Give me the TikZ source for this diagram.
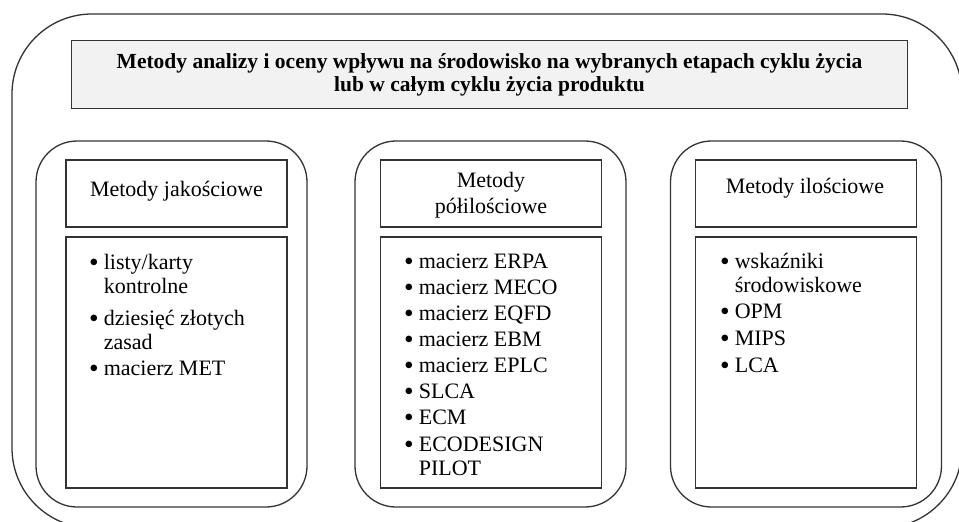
\documentclass[tikz,border=0pt]{standalone}
\usepackage{fontspec}
\setmainfont{Liberation Serif}
\definecolor{titlegray}{HTML}{F2F2F2}
\definecolor{linegray}{HTML}{333333}
\newcommand{\bul}{\raisebox{-2pt}{\scalebox{1.25}{\textbullet}}}
\begin{document}
\begin{tikzpicture}[x=1pt,y=-1pt,
    frame/.style={draw=linegray, line width=1.3pt},
    outerbox/.style={frame, rounded corners=80pt, minimum width=950pt, minimum height=514pt, inner sep=0pt},
    colbox/.style={frame, rounded corners=41pt, minimum width=271pt, minimum height=366pt, inner sep=0pt},
    titlebox/.style={frame, fill=titlegray, minimum width=836pt, minimum height=68pt, inner sep=0pt,
        align=center, font=\fontsize{21.5}{23}\selectfont\bfseries},
    hdrbox/.style={frame, minimum width=221pt, minimum height=67pt, inner sep=0pt},
    listbox/.style={frame, minimum width=221pt, minimum height=251pt, inner sep=0pt},
    hdrtext/.style={anchor=base, inner sep=0pt, font=\fontsize{22}{26}\selectfont},
    listtext/.style={anchor=base west, inner sep=0pt, font=\fontsize{22}{24}\selectfont}]
    \clip (0,0) rectangle (959,522);

    % draw the outer frame
    \node[outerbox] (outer) at (487,271) {};

    % title
    \node[titlebox] (title) at (489.5,74.5) {Metody analizy i oceny wpływu na środowisko na wybranych etapach cyklu życia\\
        lub w całym cyklu życia produktu};

    % the three columns
    \node[colbox] (colA) at (171.5,324) {};
    \node[colbox] (colB) at (490.5,324) {};
    \node[colbox] (colC) at (806,324) {};

    % headers
    \node[hdrbox] (hdrA) at (176.5,193.5) {};
    \node[hdrbox] (hdrB) at (491,193.5) {};
    \node[hdrbox] (hdrC) at (806,193.5) {};
    \node[hdrtext] (hdrAtext) at (176.5,196) {Metody jakościowe};
    \node[hdrtext] (hdrBtext) at (491,187) {\begin{tabular}[t]{@{}c@{}}Metody\\półilościowe\end{tabular}};
    \node[hdrtext] (hdrCtext) at (805,193) {Metody ilościowe};

    % lists
    \node[listbox] (listA) at (176.5,362.5) {};
    \node[listbox] (listB) at (491,362.5) {};
    \node[listbox] (listC) at (806,362.5) {};

    \node[listtext] (listAtext) at (89,269) {\begin{tabular}[t]{@{}l@{\hspace{5pt}}l@{}}
        \bul & listy/karty\\ & kontrolne\\[8pt]
        \bul & dziesięć złotych\\ & zasad\\[2pt]
        \bul & macierz MET
    \end{tabular}};
    \node[listtext] (listBtext) at (404,268) {\renewcommand{\arraystretch}{1.09}\begin{tabular}[t]{@{}l@{\hspace{5pt}}l@{}}
        \bul & macierz ERPA\\
        \bul & macierz MECO\\
        \bul & macierz EQFD\\
        \bul & macierz EBM\\
        \bul & macierz EPLC\\
        \bul & SLCA\\
        \bul & ECM\\
        \bul & ECODESIGN\\[-2pt] & PILOT
    \end{tabular}};
    \node[listtext] (listCtext) at (720,268) {\begin{tabular}[t]{@{}l@{\hspace{5pt}}l@{}}
        \bul & wskaźniki\\ & środowiskowe\\[2pt]
        \bul & OPM\\[3pt]
        \bul & MIPS\\[3pt]
        \bul & LCA
    \end{tabular}};
\end{tikzpicture}
\end{document}
